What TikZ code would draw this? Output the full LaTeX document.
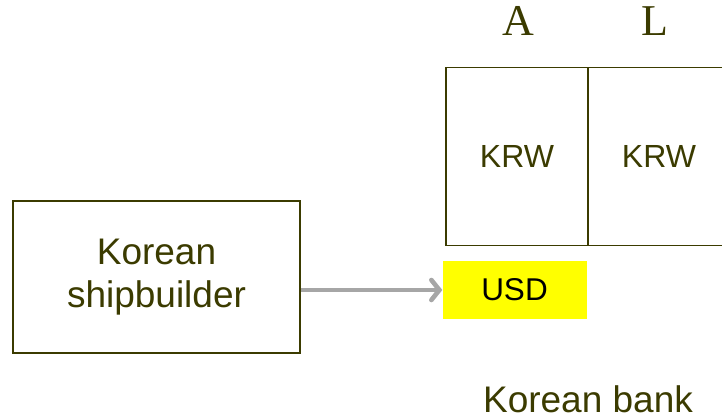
\documentclass[tikz,border=0pt]{standalone}
\usepackage{fontspec}
\setmainfont{Liberation Sans}
\newfontfamily\serifA{Liberation Serif}
\usepackage{xcolor}
\usetikzlibrary{arrows.meta, positioning}
\definecolor{olive}{HTML}{3B3B00}
\definecolor{arrowgrey}{HTML}{A6A6A6}
\definecolor{usdyellow}{HTML}{FFFF00}

\begin{document}
\begin{tikzpicture}[x=1pt, y=-1pt,
  box/.style={draw=olive, line width=1.6pt, inner sep=0pt, text=olive},
  label/.style={text=olive, inner sep=0pt},
  flow/.style={arrowgrey, line width=4.6pt, -{Straight Barb[length=8pt, width=20pt, line cap=round]}}]
  \useasboundingbox (0,0) rectangle (722,418);
  \clip (0,0) rectangle (722,418);
  % balance sheet of the bank
  \node[box, minimum width=142pt, minimum height=178pt, font=\fontsize{32}{38}\selectfont] (asset) at (517,156.5) {KRW};
  \node[box, minimum width=142pt, minimum height=178pt, font=\fontsize{32}{38}\selectfont] (liab) at (659,156.5) {KRW};
  \node[label, font=\serifA\fontsize{44}{48}\selectfont] (Ahead) at (518,21) {A};
  \node[label, font=\serifA\fontsize{44}{48}\selectfont] (Lhead) at (655,21) {L};
  \node[fill=usdyellow, minimum width=144pt, minimum height=58pt, inner sep=0pt, font=\fontsize{31.5}{36}\selectfont] (usd) at (514.5,290) {USD};
  \node[label, font=\fontsize{37}{44}\selectfont] (bank) at (588,399) {Korean bank};
  % exporter
  \node[box, minimum width=287pt, minimum height=152pt, align=center, font=\fontsize{37}{43}\selectfont] (ship) at (156.5,277) {Korean\\shipbuilder};
  \draw[flow] (ship.east |- usd.west) -- (usd.west);
\end{tikzpicture}
\end{document}
